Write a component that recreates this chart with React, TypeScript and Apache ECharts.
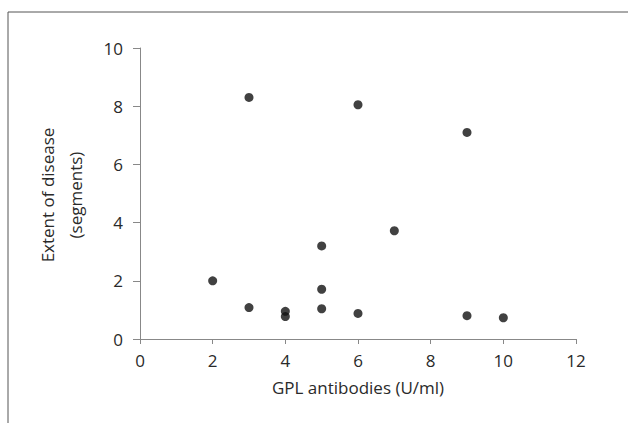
import React, { useEffect, useRef } from "react";
import * as echarts from "echarts";

const xValues = [3, 6, 9, 7, 5, 2, 5, 3, 4, 4, 5, 6, 9, 10];
const yValues = [8.3, 8.05, 7.1, 3.72, 3.2, 2.0, 1.71, 1.08, 0.95, 0.77, 1.04, 0.88, 0.8, 0.73];
const xTitle = "GPL antibodies (U/ml)";
const yTitle = "Extent of disease\n(segments)";

export default function App() {
  const ref = useRef<HTMLDivElement>(null);
  useEffect(() => {
    if (!ref.current) return;
    const chart = echarts.init(ref.current, null, { renderer: "svg" });
    const font = "'Open Sans', 'Noto Sans', sans-serif";
    chart.setOption({
      animation: false,
      backgroundColor: "#fff",
      grid: { left: 140, right: 52, top: 48, bottom: 84 },
      xAxis: {
        type: "value",
        min: 0,
        max: 12,
        interval: 2,
        name: xTitle,
        nameLocation: "middle",
        nameGap: 40,
        nameTextStyle: { color: "#2a2a2a", fontSize: 17, fontFamily: font },
        axisLine: { show: true, lineStyle: { color: "#888", width: 1 } },
        axisTick: { show: true, length: 5, lineStyle: { color: "#888" } },
        axisLabel: { color: "#2a2a2a", fontSize: 17, fontFamily: font, margin: 13 },
        splitLine: { show: false },
      },
      yAxis: {
        type: "value",
        min: 0,
        max: 10,
        interval: 2,
        axisLine: { show: true, lineStyle: { color: "#888", width: 1 } },
        axisTick: { show: true, length: 7, lineStyle: { color: "#888" } },
        axisLabel: { color: "#2a2a2a", fontSize: 17, fontFamily: font, margin: 17 },
        splitLine: { show: false },
      },
      graphic: [
        { type: "line", shape: { x1: 8, y1: 12, x2: 628, y2: 12 }, style: { stroke: "#555", lineWidth: 1 } },
        { type: "line", shape: { x1: 8, y1: 12, x2: 8, y2: 423 }, style: { stroke: "#555", lineWidth: 1 } },
        {
          type: "text",
          x: 61,
          y: 195,
          rotation: Math.PI / 2,
          style: {
            text: yTitle,
            fill: "#2a2a2a",
            fontSize: 17,
            fontFamily: font,
            lineHeight: 28,
            align: "center",
            verticalAlign: "middle",
          },
        },
      ],
      series: [
        {
          type: "scatter",
          symbol: "circle",
          symbolSize: 9,
          itemStyle: { color: "#111" },
          data: xValues.map((x, i) => [x, yValues[i]]),
        },
      ],
    });
    return () => chart.dispose();
  }, []);
  return <div ref={ref} style={{ position: "absolute", left: 0, top: 0, width: 628, height: 423 }} />;
}
